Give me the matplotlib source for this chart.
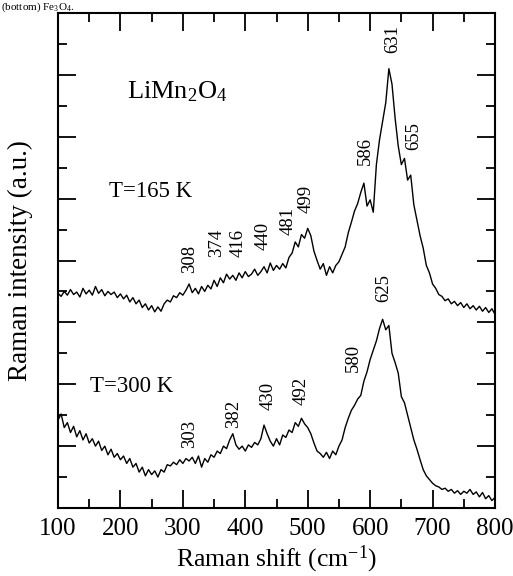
import numpy as np
import matplotlib
matplotlib.use("Agg")
import matplotlib.pyplot as plt
from matplotlib.ticker import MultipleLocator, NullFormatter

plt.rcParams["font.family"] = ["Liberation Serif", "DejaVu Serif"]
plt.rcParams["mathtext.fontset"] = "custom"
plt.rcParams["mathtext.rm"] = "Liberation Serif"
plt.rcParams["mathtext.it"] = "Liberation Serif:italic"

# Raman shift grid (cm-1), 5 cm-1 steps
shift = np.arange(100, 801, 5)

# T = 165 K spectrum (offset upwards)
t165 = [3.47, 3.42, 3.50, 3.44, 3.53, 3.45, 3.49, 3.41, 3.55, 3.46,
        3.52, 3.44, 3.58, 3.47, 3.53, 3.43, 3.50, 3.45, 3.49, 3.40,
        3.46, 3.38, 3.44, 3.33, 3.40, 3.30, 3.36, 3.24, 3.30, 3.20,
        3.27, 3.17, 3.25, 3.18, 3.30, 3.36, 3.33, 3.43, 3.40, 3.48,
        3.44, 3.52, 3.62, 3.48, 3.55, 3.46, 3.58, 3.50, 3.60, 3.54,
        3.68, 3.58, 3.72, 3.64, 3.78, 3.70, 3.76, 3.68, 3.80, 3.72,
        3.82, 3.74, 3.78, 3.86, 3.76, 3.82, 3.90, 3.80, 3.96, 3.84,
        3.92, 3.86, 3.95, 3.88, 4.05, 4.12, 4.30, 4.22, 4.42, 4.36,
        4.52, 4.40, 4.15, 4.00, 3.86, 3.95, 3.76, 3.90, 3.80, 3.92,
        3.98, 4.10, 4.22, 4.45, 4.62, 4.80, 4.92, 5.10, 5.25, 4.88,
        4.98, 4.78, 5.55, 5.95, 6.25, 6.55, 7.10, 6.85, 6.30, 5.85,
        5.55, 5.65, 5.30, 5.38, 4.90, 4.65, 4.40, 4.20, 3.92, 3.80,
        3.62, 3.55, 3.45, 3.42, 3.35, 3.38, 3.30, 3.34, 3.27, 3.32,
        3.24, 3.30, 3.22, 3.27, 3.20, 3.26, 3.18, 3.24, 3.16, 3.22,
        3.13]

# T = 300 K spectrum
t300 = [1.42, 1.52, 1.30, 1.38, 1.22, 1.32, 1.15, 1.25, 1.10, 1.20,
        1.05, 1.12, 1.00, 1.08, 0.93, 1.00, 0.86, 0.95, 0.82, 0.88,
        0.78, 0.84, 0.72, 0.80, 0.66, 0.72, 0.58, 0.66, 0.52, 0.62,
        0.54, 0.60, 0.50, 0.62, 0.58, 0.70, 0.68, 0.74, 0.70, 0.78,
        0.72, 0.80, 0.76, 0.82, 0.72, 0.84, 0.66, 0.80, 0.74, 0.86,
        0.82, 0.92, 0.88, 1.00, 0.96, 1.10, 1.20, 1.02, 0.95, 1.00,
        0.92, 1.02, 0.98, 1.06, 1.02, 1.12, 1.34, 1.20, 1.08, 1.00,
        1.12, 1.02, 1.18, 1.14, 1.26, 1.22, 1.38, 1.32, 1.45, 1.36,
        1.30, 1.20, 1.05, 0.92, 0.88, 0.82, 0.90, 0.80, 0.92, 0.86,
        1.00, 1.10, 1.30, 1.45, 1.58, 1.66, 1.76, 1.82, 2.05, 2.20,
        2.40, 2.55, 2.70, 2.90, 3.05, 2.88, 2.95, 2.50, 2.35, 2.18,
        1.80, 1.70, 1.50, 1.30, 1.10, 0.95, 0.78, 0.62, 0.52, 0.46,
        0.40, 0.36, 0.34, 0.30, 0.32, 0.27, 0.30, 0.24, 0.28, 0.22,
        0.27, 0.24, 0.30, 0.22, 0.26, 0.18, 0.25, 0.15, 0.20, 0.12,
        0.17]

# peak labels: text, x position, bottom of label
peaks165 = ["308", "374", "416", "440", "481", "499", "586", "631", "655"]
peaks165_x = [310, 354, 388, 429, 469, 497, 592, 637, 670]
peaks165_y = [3.80, 4.06, 4.06, 4.17, 4.41, 4.76, 5.54, 7.35, 5.78]

peaks300 = ["303", "382", "430", "492", "580", "625"]
peaks300_x = [310, 381, 437, 489, 573, 621]
peaks300_y = [0.97, 1.29, 1.58, 1.66, 2.20, 3.33]

fig = plt.figure(figsize=(5.13, 5.76), dpi=100)
ax = fig.add_axes([58 / 513, 1 - 508 / 576, 437 / 513, 495 / 576])

ax.plot(shift, t165, color="black", lw=1.0)
ax.plot(shift, t300, color="black", lw=1.0)

for lab, x, y in zip(peaks165, peaks165_x, peaks165_y):
    ax.text(x, y, lab, rotation=90, ha="center", va="bottom", fontsize=13.5)
for lab, x, y in zip(peaks300, peaks300_x, peaks300_y):
    ax.text(x, y, lab, rotation=90, ha="center", va="bottom", fontsize=13.5)

ax.text(210, 6.62, r"LiMn$_2$O$_4$", fontsize=19, va="baseline")
ax.text(182, 5.02, "T=165 K", fontsize=16.5, va="baseline")
ax.text(151, 1.87, "T=300 K", fontsize=16.5, va="baseline")

ax.set_xlim(100, 800)
ax.set_ylim(0, 8)
ax.xaxis.set_major_locator(MultipleLocator(100))
ax.xaxis.set_minor_locator(MultipleLocator(50))
ax.yaxis.set_major_locator(MultipleLocator(1))
ax.yaxis.set_minor_locator(MultipleLocator(0.5))
ax.yaxis.set_major_formatter(NullFormatter())
ax.tick_params(which="both", direction="in", top=True, right=True, width=1.3)
ax.tick_params(which="major", length=13, labelsize=18, pad=7)
ax.tick_params(which="minor", length=6.5)
for s in ax.spines.values():
    s.set_linewidth(1.5)

ax.set_xlabel("Raman shift (cm$^{-1}$)", fontsize=18.5, labelpad=3)
ax.set_ylabel("Raman intensity (a.u.)", fontsize=19.5)
ax.yaxis.set_label_coords(-0.057, 0.5)

# caption line at the top of the scan
fig.text(0.002, 0.999, r"(bottom) Fe$_3$O$_4$.", fontsize=8, va="top")

fig.savefig("out.png", dpi=100)
